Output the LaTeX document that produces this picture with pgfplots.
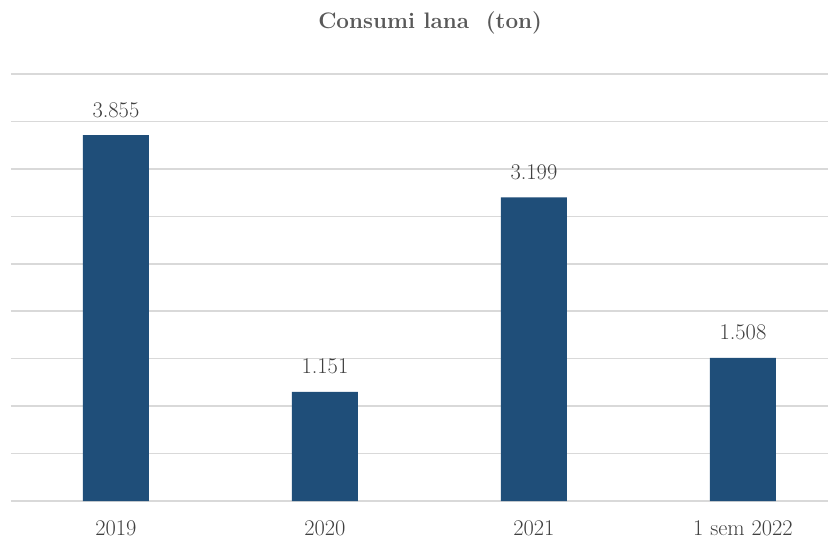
\documentclass[border=0pt]{standalone}
\usepackage{fontspec}
\usepackage{pgfplots}
\pgfplotsset{compat=1.18}
\definecolor{barblue}{HTML}{1F4E79}
\definecolor{gridgray}{HTML}{D9D9D9}
\definecolor{txtgray}{HTML}{404040}
\definecolor{titlegray}{HTML}{595959}
\begin{document}
\begin{tikzpicture}
\path[use as bounding box, fill=white] (-11bp,-38bp) rectangle (826bp,501bp);
\begin{axis}[
  at={(0,0)}, anchor=south west,
  scale only axis, width=817bp, height=427bp,
  xmin=-0.502, xmax=3.407, ymin=0, ymax=4500,
  ytick={0,500,...,4500}, yticklabels={},
  ymajorgrids, grid style={gridgray, line width=1.6bp},
  axis line style={draw=none},
  major tick length=0pt,
  xtick={0,1,2,3},
  xticklabels={2019,2020,2021,1 sem 2022},
  xticklabel style={anchor=base, yshift=-34.5bp, font=\fontsize{22.5}{27}\selectfont, text=txtgray},
  ybar, bar width=66bp,
  nodes near coords,
  /pgf/number format/1000 sep={.},
  /pgf/number format/assume math mode=true,
  nodes near coords style={anchor=base, yshift=18bp, font=\fontsize{22.5}{27}\selectfont, text=txtgray},
  title={Consumi lana\ \ (ton)},
  title style={at={(axis description cs:0.513,1.0937)}, anchor=base, font=\fontsize{22.5}{27}\selectfont\bfseries, text=titlegray},
]
\addplot[fill=barblue, draw=none] coordinates {(0,3855) (1,1151) (2,3199) (3,1508)};
\end{axis}
\end{tikzpicture}
\end{document}
